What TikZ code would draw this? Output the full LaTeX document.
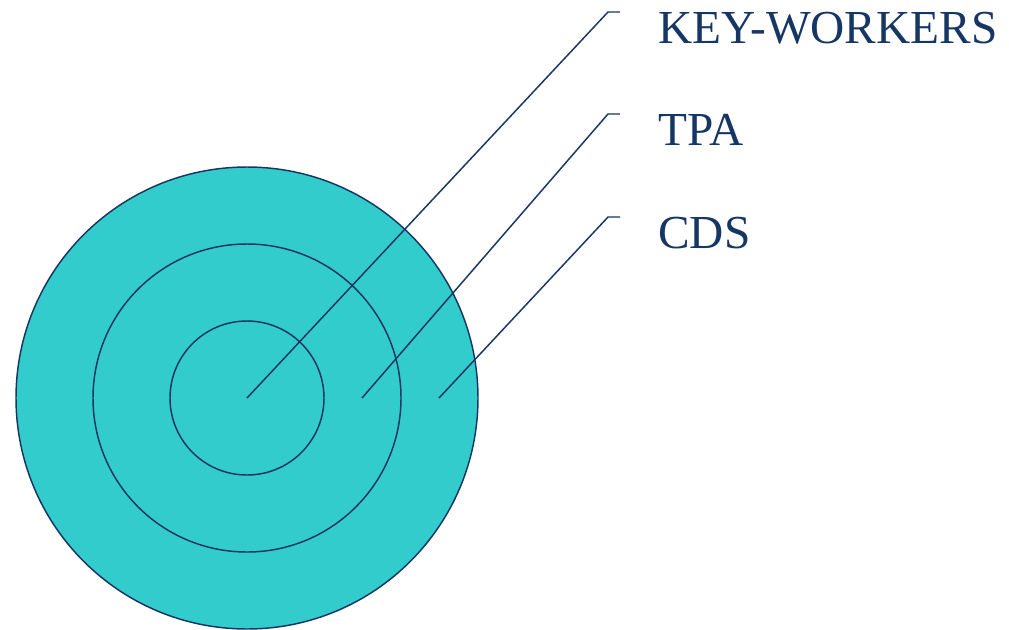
\documentclass[tikz,border=0pt]{standalone}
\usepackage{fontspec}
\setmainfont{Liberation Serif}
\definecolor{navy}{RGB}{22,54,100}
\definecolor{teal}{RGB}{51,204,204}
\begin{document}
\begin{tikzpicture}[x=0.75pt,y=-0.75pt,
  ring/.style={circle,draw=navy,line width=1.1pt,fill=teal,inner sep=0pt},
  leader/.style={draw=navy,line width=1.1pt},
  label/.style={anchor=base west,inner sep=0pt,text=navy,font=\fontsize{35.5}{40}\selectfont}]
\useasboundingbox (0,0) rectangle (1009,629);
\node[ring,minimum size=462*0.75pt] (outer) at (247,398) {};
\node[ring,minimum size=308*0.75pt] (middle) at (247,398) {};
\node[ring,minimum size=154*0.75pt] (inner) at (247,398) {};
\coordinate (p1) at (247,398);
\coordinate (p2) at (362,398);
\coordinate (p3) at (439,398);
\coordinate (c1) at (608,12);
\coordinate (c2) at (608,114);
\coordinate (c3) at (608,217);
\coordinate (e1) at (620,12);
\coordinate (e2) at (620,114);
\coordinate (e3) at (620,217);
\draw[leader] (p1) -- (c1) -- (e1);
\draw[leader] (p2) -- (c2) -- (e2);
\draw[leader] (p3) -- (c3) -- (e3);
\node[label] (kw) at (658,43) {KEY-WORKERS};
\node[label] (tpa) at (658,145) {TPA};
\node[label] (cds) at (658,248) {CDS};
\end{tikzpicture}
\end{document}
